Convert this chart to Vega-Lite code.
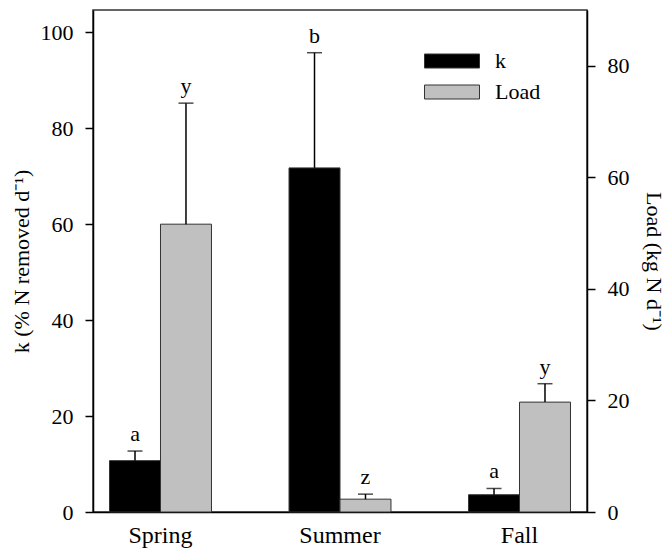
{
  "$schema": "https://vega.github.io/schema/vega-lite/v6.json",
  "width": 494,
  "height": 502,
  "autosize": {"type": "none"},
  "padding": {"left": 93, "top": 10, "right": 81, "bottom": 38},
  "background": "white",
  "config": {
    "font": "Liberation Serif",
    "view": {"stroke": "#333", "strokeWidth": 1.5},
    "style": {"guide-label": {"font": "Liberation Serif"}, "guide-title": {"font": "Liberation Serif"}},
    "axis": {
      "labelFont": "Liberation Serif", "titleFont": "Liberation Serif",
      "labelFontSize": 22, "titleFontSize": 22, "labelColor": "#000", "titleColor": "#000",
      "titleFontWeight": "normal", "domainColor": "#000", "domainWidth": 1.5,
      "tickColor": "#000", "tickWidth": 1.5, "grid": false
    },
    "legend": {"labelFont": "Liberation Serif", "labelFontSize": 22, "labelColor": "#000"},
    "text": {"font": "Liberation Serif"}
  },
  "data": {
    "values": [
      {"season": "Spring", "series": "k", "value": 10.7, "err": 12.7, "letter": "a"},
      {"season": "Spring", "series": "Load", "value": 51.6, "err": 73.3, "letter": "y"},
      {"season": "Summer", "series": "k", "value": 71.7, "err": 95.7, "letter": "b"},
      {"season": "Summer", "series": "Load", "value": 2.3, "err": 3.2, "letter": "z"},
      {"season": "Fall", "series": "k", "value": 3.6, "err": 4.9, "letter": "a"},
      {"season": "Fall", "series": "Load", "value": 19.7, "err": 23.0, "letter": "y"}
    ]
  },
  "encoding": {
    "x": {
      "field": "season", "type": "nominal", "sort": ["Spring", "Summer", "Fall"],
      "scale": {"paddingInner": 0.432, "paddingOuter": 0.092},
      "axis": {"title": null, "labelAngle": 0, "ticks": false, "labelPadding": 11, "labelFont": "Liberation Serif", "labelFontSize": 24}
    },
    "xOffset": {"field": "series", "type": "nominal", "scale": {"domain": ["k", "Load"], "paddingInner": 0, "paddingOuter": 0}}
  },
  "layer": [
    {
      "transform": [{"filter": "datum.series === 'k'"}],
      "layer": [
        {
          "mark": {"type": "bar", "stroke": "#333", "strokeWidth": 1},
          "encoding": {
            "y": {"field": "value", "type": "quantitative", "scale": {"domain": [0, 104.6], "nice": false},
              "axis": {"orient": "left", "title": "k (% N removed d⁻¹)", "values": [0, 20, 40, 60, 80, 100], "tickSize": 8, "labelPadding": 12, "titlePadding": 7, "labelFont": "Liberation Serif", "titleFont": "Liberation Serif"}},
            "color": {"field": "series", "type": "nominal", "scale": {"domain": ["k", "Load"], "range": ["#000000", "#c0c0c0"]},
              "legend": {"title": null, "orient": "none", "legendX": 348, "legendY": 40, "symbolType": "M-2.75,-0.7H2.75V0.7H-2.75Z", "symbolSize": 400, "symbolStrokeColor": "#333", "symbolStrokeWidth": 1, "symbolOpacity": 1, "labelOffset": 32, "rowPadding": 9, "padding": 0, "labelFont": "Liberation Serif"}}
          }
        },
        {
          "mark": {"type": "rule", "color": "#000", "strokeWidth": 1.5},
          "encoding": {
            "y": {"field": "err", "type": "quantitative",
              "axis": {"orient": "left", "title": "k (% N removed d⁻¹)", "values": [0, 20, 40, 60, 80, 100], "tickSize": 8, "labelPadding": 12, "titlePadding": 7, "labelFont": "Liberation Serif", "titleFont": "Liberation Serif"}},
            "y2": {"field": "value"}
          }
        },
        {
          "mark": {"type": "tick", "color": "#000", "size": 15, "thickness": 1.5, "orient": "horizontal"},
          "encoding": {
            "y": {"field": "err", "type": "quantitative",
              "axis": {"orient": "left", "title": "k (% N removed d⁻¹)", "values": [0, 20, 40, 60, 80, 100], "tickSize": 8, "labelPadding": 12, "titlePadding": 7, "labelFont": "Liberation Serif", "titleFont": "Liberation Serif"}}
          }
        },
        {
          "mark": {"type": "text", "fontSize": 22, "baseline": "alphabetic", "dy": -10, "color": "#000", "font": "Liberation Serif"},
          "encoding": {
            "y": {"field": "err", "type": "quantitative",
              "axis": {"orient": "left", "title": "k (% N removed d⁻¹)", "values": [0, 20, 40, 60, 80, 100], "tickSize": 8, "labelPadding": 12, "titlePadding": 7, "labelFont": "Liberation Serif", "titleFont": "Liberation Serif"}},
            "text": {"field": "letter"}
          }
        }
      ]
    },
    {
      "transform": [{"filter": "datum.series === 'Load'"}],
      "layer": [
        {
          "mark": {"type": "bar", "stroke": "#333", "strokeWidth": 1},
          "encoding": {
            "y": {"field": "value", "type": "quantitative", "scale": {"domain": [0, 90], "nice": false},
              "axis": {"orient": "right", "title": "Load (kg N d⁻¹)", "values": [0, 20, 40, 60, 80], "tickSize": 8, "labelPadding": 12, "titlePadding": 12, "titleAngle": 90, "labelFont": "Liberation Serif", "titleFont": "Liberation Serif"}},
            "color": {"field": "series", "type": "nominal", "scale": {"domain": ["k", "Load"], "range": ["#000000", "#c0c0c0"]}}
          }
        },
        {
          "mark": {"type": "rule", "color": "#000", "strokeWidth": 1.5},
          "encoding": {
            "y": {"field": "err", "type": "quantitative",
              "axis": {"orient": "right", "title": "Load (kg N d⁻¹)", "values": [0, 20, 40, 60, 80], "tickSize": 8, "labelPadding": 12, "titlePadding": 12, "titleAngle": 90, "labelFont": "Liberation Serif", "titleFont": "Liberation Serif"}},
            "y2": {"field": "value"}
          }
        },
        {
          "mark": {"type": "tick", "color": "#000", "size": 15, "thickness": 1.5, "orient": "horizontal"},
          "encoding": {
            "y": {"field": "err", "type": "quantitative",
              "axis": {"orient": "right", "title": "Load (kg N d⁻¹)", "values": [0, 20, 40, 60, 80], "tickSize": 8, "labelPadding": 12, "titlePadding": 12, "titleAngle": 90, "labelFont": "Liberation Serif", "titleFont": "Liberation Serif"}}
          }
        },
        {
          "mark": {"type": "text", "fontSize": 22, "baseline": "alphabetic", "dy": -10, "color": "#000", "font": "Liberation Serif"},
          "encoding": {
            "y": {"field": "err", "type": "quantitative",
              "axis": {"orient": "right", "title": "Load (kg N d⁻¹)", "values": [0, 20, 40, 60, 80], "tickSize": 8, "labelPadding": 12, "titlePadding": 12, "titleAngle": 90, "labelFont": "Liberation Serif", "titleFont": "Liberation Serif"}},
            "text": {"field": "letter"}
          }
        }
      ]
    }
  ],
  "resolve": {"scale": {"y": "independent"}, "axis": {"y": "independent"}}
}
